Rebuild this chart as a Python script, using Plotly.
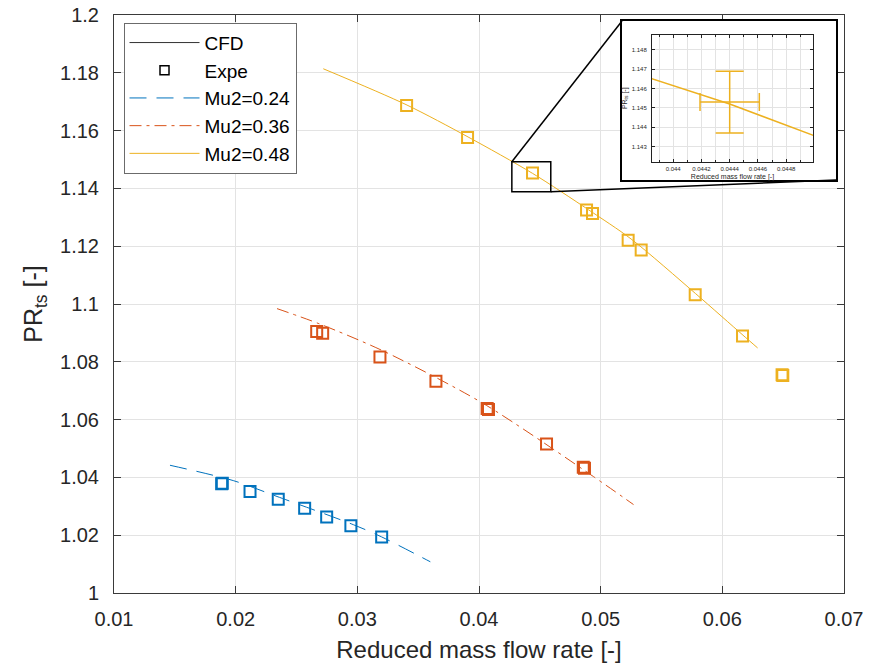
import plotly.graph_objects as go

# ---- CFD characteristics (total-to-static pressure ratio vs reduced mass flow) ----
cfd_x_024 = [0.0146, 0.0198, 0.0234, 0.0297, 0.0320, 0.0360]
cfd_y_024 = [1.0442, 1.0389, 1.0334, 1.0236, 1.0194, 1.0108]

cfd_x_036 = [0.0234, 0.0269, 0.0321, 0.0403, 0.0494, 0.0527]
cfd_y_036 = [1.0984, 1.0931, 1.0838, 1.0657, 1.0403, 1.0306]

cfd_x_048 = [0.0272, 0.0340, 0.0391, 0.0444, 0.0490, 0.0525, 0.0578, 0.0617, 0.0629]
cfd_y_048 = [1.1814, 1.1690, 1.1578, 1.1452, 1.1326, 1.1225, 1.1036, 1.0892, 1.0848]

# ---- Experimental points ----
exp_x_024 = [0.01885, 0.0189, 0.02118, 0.0235, 0.02567, 0.02748, 0.02947, 0.0320]
exp_y_024 = [1.0378, 1.0380, 1.0351, 1.0324, 1.0293, 1.0263, 1.0233, 1.0194]

exp_x_036 = [0.02666, 0.02715, 0.03186, 0.03646, 0.04067, 0.04078, 0.04555, 0.04857, 0.04867]
exp_y_036 = [1.0905, 1.0899, 1.0817, 1.0733, 1.0638, 1.0635, 1.0516, 1.0435, 1.0432]

exp_x_048 = [0.03405, 0.03906, 0.0444, 0.04884, 0.04933, 0.05226, 0.05333, 0.05777,
             0.06166, 0.06491, 0.06497]
exp_y_048 = [1.1687, 1.1576, 1.1453, 1.1325, 1.1313, 1.1221, 1.1187, 1.1032,
             1.0889, 1.0755, 1.0753]

# ---- Zoomed point with measurement uncertainty ----
zoom_x = [0.0444]
zoom_y = [1.1453]
zoom_err_x = [0.00021]
zoom_err_y = [0.0016]

# axis ranges
x_range = [0.01, 0.07]
y_range = [1.0, 1.2]
inset_x_range = [0.04385, 0.04499]
inset_y_range = [1.1422, 1.1488]
box_x = [0.0427, 0.0459]
box_y = [1.1388, 1.1492]

BLUE = "#0072BD"
ORANGE = "#D95319"
YELLOW = "#EDB120"
FONT = "Liberation Sans, Arial, Helvetica, sans-serif"
AXC = "#3a3a3a"
GRID = "#e3e3e3"

fig = go.Figure()

# legend-only entries
fig.add_trace(go.Scatter(x=[None], y=[None], mode="lines", name="CFD",
                         line=dict(color="#333333", width=1)))
fig.add_trace(go.Scatter(x=[None], y=[None], mode="markers", name="Expe",
                         marker=dict(symbol="square-open", color="black", size=9,
                                     line=dict(width=1.5))))

series = [
    ("Mu2=0.24", cfd_x_024, cfd_y_024, exp_x_024, exp_y_024, BLUE, "17px,10px"),
    ("Mu2=0.36", cfd_x_036, cfd_y_036, exp_x_036, exp_y_036, ORANGE, "12px,5px,3px,5px"),
    ("Mu2=0.48", cfd_x_048, cfd_y_048, exp_x_048, exp_y_048, YELLOW, "solid"),
]
for name, cx, cy, ex, ey, col, dash in series:
    fig.add_trace(go.Scatter(x=cx, y=cy, mode="lines", name=name,
                             line=dict(color=col, width=1, dash=dash,
                                       shape="spline", smoothing=0.8)))
for name, cx, cy, ex, ey, col, dash in series:
    fig.add_trace(go.Scatter(x=ex, y=ey, mode="markers", showlegend=False,
                             marker=dict(symbol="square-open", color=col, size=11,
                                         line=dict(width=2, color=col))))

# white frame behind the inset
fig.add_trace(go.Scatter(x=[], y=[], xaxis="x2", yaxis="y2", showlegend=False))

# inset: CFD line and measured point with error bars
fig.add_trace(go.Scatter(x=cfd_x_048, y=cfd_y_048, mode="lines", xaxis="x3", yaxis="y3",
                         showlegend=False, line=dict(color=YELLOW, width=1.5)))
fig.add_trace(go.Scatter(x=zoom_x, y=zoom_y, mode="markers", xaxis="x3", yaxis="y3",
                         showlegend=False, marker=dict(size=0.1, color=YELLOW),
                         error_x=dict(type="data", array=zoom_err_x, color=YELLOW,
                                      thickness=1.5, width=9),
                         error_y=dict(type="data", array=zoom_err_y, color=YELLOW,
                                      thickness=1.5, width=14)))

L, R, T, B = 114, 36, 15, 71
W, H = 880, 664
pw, ph = W - L - R, H - T - B


def px_x(p):
    return (p - L) / pw


def px_y(p):
    return (H - B - p) / ph


frame_dom_x = [px_x(622), px_x(836)]
frame_dom_y = [px_y(180), px_y(21)]
inset_dom_x = [px_x(652), px_x(813)]
inset_dom_y = [px_y(162), px_y(34.5)]

fig.update_layout(
    width=W, height=H,
    margin=dict(l=L, r=R, t=T, b=B, autoexpand=False),
    paper_bgcolor="white", plot_bgcolor="white",
    font=dict(family=FONT, color="#262626", size=20),
    xaxis=dict(range=x_range, dtick=0.01, tick0=0.01, showgrid=True, gridcolor=GRID,
               gridwidth=1, zeroline=False, showline=True, linecolor=AXC, linewidth=1,
               mirror="ticks", ticks="inside", ticklen=7, tickcolor=AXC,
               tickfont=dict(size=20, color="#262626"), ticklabelstandoff=8,
               automargin=False,
               title=dict(text="Reduced mass flow rate [-]", font=dict(size=24),
                          standoff=12)),
    yaxis=dict(range=y_range, dtick=0.02, tick0=1.0, showgrid=True, gridcolor=GRID,
               gridwidth=1, zeroline=False, showline=True, linecolor=AXC, linewidth=1,
               mirror="ticks", ticks="inside", ticklen=7, tickcolor=AXC,
               tickfont=dict(size=20, color="#262626"), ticklabelstandoff=10,
               automargin=False,
               title=dict(text="PR<sub>ts</sub> [-]", font=dict(size=25), standoff=10)),
    xaxis2=dict(domain=frame_dom_x, anchor="y2", range=[0, 1], showgrid=False,
                zeroline=False, showticklabels=False, showline=True, mirror=True,
                linecolor="black", linewidth=2, ticks="", automargin=False),
    yaxis2=dict(domain=frame_dom_y, anchor="x2", range=[0, 1], showgrid=False,
                zeroline=False, showticklabels=False, showline=True, mirror=True,
                linecolor="black", linewidth=2, ticks="", automargin=False),
    xaxis3=dict(domain=inset_dom_x, anchor="y3", range=inset_x_range, tick0=0.044,
                dtick=0.0002, tickformat=".4~f", showgrid=True, gridcolor=GRID,
                zeroline=False, showline=True, mirror="ticks", linecolor="#222",
                linewidth=1, ticks="inside", ticklen=3, tickcolor="#222",
                tickfont=dict(size=6), ticklabelstandoff=1, automargin=False,
                minor=dict(dtick=0.0001, tick0=0.044, showgrid=True, gridcolor=GRID,
                           ticks="inside", ticklen=2, tickcolor="#222"),
                title=dict(text="Reduced mass flow rate [-]", font=dict(size=7),
                           standoff=2)),
    yaxis3=dict(domain=inset_dom_y, anchor="x3", range=inset_y_range, tick0=1.143,
                dtick=0.001, tickformat=".3f", showgrid=True, gridcolor=GRID,
                zeroline=False, showline=True, mirror="ticks", linecolor="#222",
                linewidth=1, ticks="inside", ticklen=3, tickcolor="#222",
                tickfont=dict(size=6), ticklabelstandoff=3, automargin=False,
                title=dict(text="PR<sub>ts</sub> [-]", font=dict(size=7), standoff=3)),
    legend=dict(x=px_x(123.5), y=px_y(22.7), xanchor="left", yanchor="top",
                bgcolor="white", bordercolor="#6b6b6b", borderwidth=1,
                font=dict(size=19, color="black"), itemwidth=70,
                tracegroupgap=0),
)

# zoom window on the main axes
fig.add_shape(type="rect", xref="x", yref="y", x0=box_x[0], x1=box_x[1],
              y0=box_y[0], y1=box_y[1], line=dict(color="black", width=1.5))


def to_paper_x(v):
    return (v - x_range[0]) / (x_range[1] - x_range[0])


def to_paper_y(v):
    return (v - y_range[0]) / (y_range[1] - y_range[0])


# connectors from zoom window to inset frame
fig.add_shape(type="line", xref="paper", yref="paper",
              x0=to_paper_x(box_x[0]), y0=to_paper_y(box_y[1]),
              x1=frame_dom_x[0], y1=frame_dom_y[1], line=dict(color="black", width=1.5))
fig.add_shape(type="line", xref="paper", yref="paper",
              x0=to_paper_x(box_x[1]), y0=to_paper_y(box_y[0]),
              x1=frame_dom_x[1], y1=frame_dom_y[0], line=dict(color="black", width=1.5))

fig.write_html("out.html")
